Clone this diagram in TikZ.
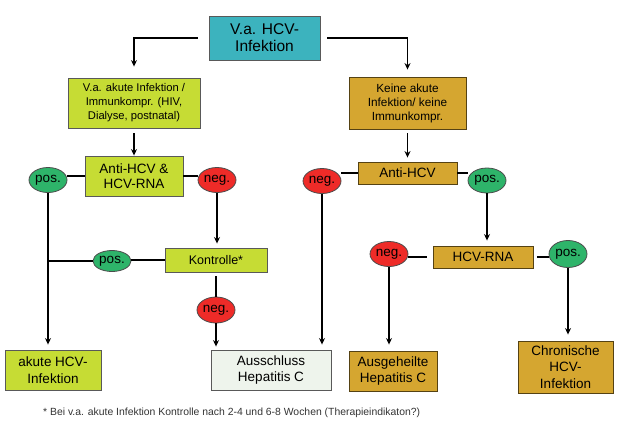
\documentclass[tikz,border=0pt]{standalone}
\usepackage{fontspec}
\setmainfont{Liberation Sans}
\usetikzlibrary{shapes.geometric,arrows.meta}
\definecolor{cteal}{HTML}{3CB3BE}
\definecolor{clime}{HTML}{C6DC34}
\definecolor{cgold}{HTML}{D5A630}
\definecolor{cgreen}{HTML}{2EB46A}
\definecolor{cred}{HTML}{EE2B28}
\definecolor{clight}{HTML}{EEF4EC}
\tikzset{
  fs/.style 2 args={font=\fontsize{#1}{#2}\selectfont},
  box/.style={draw=black!65, line width=0.9pt, align=center, inner sep=1pt},
  tealbox/.style={box, fill=cteal},
  limebox/.style={box, fill=clime},
  goldbox/.style={box, fill=cgold, draw=black!60!cgold},
  lightbox/.style={box, fill=clight},
  oval/.style={ellipse, draw=black!70, line width=0.8pt, inner sep=0pt, minimum width=38pt, minimum height=25pt, fs={13.5}{15}},
  posoval/.style={oval, fill=cgreen},
  negoval/.style={oval, fill=cred},
  conn/.style={line width=1.3pt, black},
  arr/.style={conn, -{Stealth[length=6.5pt,width=6pt]}},
}
\begin{document}
\begin{tikzpicture}[x=1pt,y=-1pt]
\useasboundingbox (0,0) rectangle (620,423);
% boxes
\node[tealbox, minimum width=111pt, minimum height=44pt, fs={15.5}{17}] (top) at (264.5,38) {V.a. HCV-\\Infektion};
\node[limebox, minimum width=132pt, minimum height=50pt, fs={11.2}{14}] (b1L) at (134,103) {V.a. akute Infektion /\\Immunkompr. (HIV,\\Dialyse, postnatal)};
\node[goldbox, minimum width=117pt, minimum height=52pt, fs={11.8}{14}] (b1R) at (407.5,103) {Keine akute\\Infektion/ keine\\Immunkompr.};
\node[limebox, minimum width=98pt, minimum height=40pt, fs={13.5}{14.5}] (ahcv) at (134,176) {Anti-HCV \&\\HCV-RNA};
\node[limebox, minimum width=102pt, minimum height=24pt, fs={12.5}{14}] (kontr) at (216,260) {Kontrolle*};
\node[limebox, minimum width=96pt, minimum height=40pt, fs={13.5}{16.5}] (akute) at (53,370) {akute HCV-\\Infektion};
\node[lightbox, minimum width=120pt, minimum height=40pt, fs={13.5}{16.5}] (aussch) at (271,370) {Ausschluss\\Hepatitis C};
\node[goldbox, minimum width=99pt, minimum height=22pt, fs={13.5}{15}] (antihcv) at (407.5,173) {Anti-HCV};
\node[goldbox, minimum width=100pt, minimum height=22pt, fs={13.5}{15}] (hcvrna) at (483,257) {HCV-RNA};
\node[goldbox, minimum width=88pt, minimum height=40pt, fs={13.5}{16.5}] (ausgeh) at (393,371) {Ausgeheilte\\Hepatitis C};
\node[goldbox, minimum width=95pt, minimum height=52pt, fs={13.5}{16.5}] (chron) at (565.5,367) {Chronische\\HCV-\\Infektion};
% ovals
\node[posoval] (posL) at (48,180) {pos.};
\node[negoval] (negL) at (217,180) {neg.};
\node[posoval, minimum height=21pt] (posM) at (112,261) {pos.};
\node[negoval, minimum height=26pt] (negM) at (216,310) {neg.};
\node[negoval] (negR) at (322,181) {neg.};
\node[posoval] (posR) at (487,180.5) {pos.};
\node[negoval] (negR2) at (389,254) {neg.};
\node[posoval, minimum height=27pt] (posR2) at (568,254) {pos.};
% footnote
\node[anchor=west, fs={10.4}{12}, text=black!80, inner sep=0pt] (foot) at (43,413) {* Bei v.a. akute Infektion Kontrolle nach 2-4 und 6-8 Wochen (Therapieindikaton?)};
% connectors
\draw[arr, shorten <=11pt, shorten >=11pt] (top.west) -| (b1L.north);
\draw[arr, shorten <=7pt, shorten >=7pt] (top.east) -| (b1R.north);
\draw[arr, shorten <=5pt] (b1L.south) -- (ahcv.north);
\draw[arr, shorten <=4pt, shorten >=4pt] (b1R.south) -- (antihcv.north);
\draw[conn] (ahcv.west) -- (posL.east |- ahcv.west);
\draw[conn] (ahcv.east) -- (negL.west |- ahcv.east);
\draw[arr, shorten >=4pt] (negL.south) -- (negL.south |- kontr.north);
\draw[arr, shorten >=5pt] (posL.south) -- (posL.south |- akute.north);
\draw[conn] (kontr.west) -- (posM.east |- kontr.west);
\draw[conn] (posM.west) -- (posM.west -| posL.south);
\draw[conn, shorten <=4pt] (kontr.south) -- (negM.north);
\draw[arr, shorten >=3pt] (negM.south) -- (negM.south |- aussch.north);
\draw[arr, shorten >=5pt] (negR.south) -- (negR.south |- aussch.north);
\draw[conn] (antihcv.west) -- (negR.east |- antihcv.west);
\draw[conn] (antihcv.east) -- (posR.west |- antihcv.east);
\draw[arr, shorten >=5pt] (posR.south) -- (posR.south |- hcvrna.north);
\draw[conn, shorten <=6pt] (hcvrna.west) -- (negR2.east |- hcvrna.west);
\draw[conn, shorten <=4pt] (hcvrna.east) -- (posR2.west |- hcvrna.east);
\draw[arr, shorten >=6pt] (negR2.south) -- (negR2.south |- ausgeh.north);
\draw[arr, shorten >=6pt] (posR2.south) -- (posR2.south |- chron.north);
\end{tikzpicture}
\end{document}
